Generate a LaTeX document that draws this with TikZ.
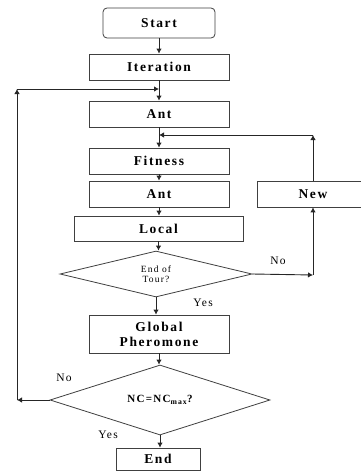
\documentclass[tikz,border=0pt]{standalone}
\usepackage{fontspec}
\setmainfont{Liberation Serif}[LetterSpace=12]
\usetikzlibrary{shapes.geometric,arrows.meta}
\begin{document}
\begin{tikzpicture}[x=1pt,y=-1pt,
  box/.style={draw=black!75,line width=0.8pt,inner sep=0pt,font=\fontsize{13.5}{15}\selectfont\bfseries,align=center},
  dia/.style={draw=black!75,line width=0.8pt,diamond,inner sep=0pt,align=center},
  arr/.style={draw=black!85,line width=0.9pt,-{Latex[length=5pt,width=5.5pt]}},
  ln/.style={draw=black!85,line width=0.9pt},
  lab/.style={font=\fontsize{11.5}{12}\selectfont,inner sep=0pt}]
\clip (0,0) rectangle (361,471);
\fill[white] (0,0) rectangle (361,471);
\node[box,rounded corners=4pt,minimum width=112pt,minimum height=30pt] (start) at (159,23) {Start};
\node[box,minimum width=140pt,minimum height=26pt] (iter) at (159,67) {Iteration};
\node[box,minimum width=140pt,minimum height=26pt] (ant1) at (159,114) {Ant};
\node[box,minimum width=140pt,minimum height=26pt] (fit) at (159,161) {Fitness};
\node[box,minimum width=140pt,minimum height=26pt] (ant2) at (159,194) {Ant};
\node[box,minimum width=112pt,minimum height=26pt] (new) at (313,194) {New};
\node[box,minimum width=169pt,minimum height=25pt] (local) at (158.5,228.5) {Local};
\node[dia,minimum width=192pt,minimum height=46pt,shape aspect=4.2,font=\fontsize{9.5}{10}\selectfont] (d1) at (156,274) {End of\\Tour?};
\node[box,minimum width=140pt,minimum height=38pt,font=\fontsize{13.5}{15}\selectfont\bfseries] (glob) at (159,334) {Global\\Pheromone};
\node[dia,minimum width=220pt,minimum height=70pt,shape aspect=3.15,font=\fontsize{11}{12}\selectfont\bfseries] (d2) at (160,400) {NC=NC\textsubscript{max}?};
\node[box,minimum width=84pt,minimum height=22pt] (end) at (158,459) {End};
\coordinate (j1) at (159,89);
\coordinate (j2) at (159,135);
\coordinate (cL) at (17,400);
\coordinate (cT) at (17,89);
\coordinate (cR) at (313,275);
\coordinate (cRT) at (313,135);
\draw[arr] (start) -- (iter);
\draw[arr] (iter) -- (ant1);
\draw[arr] (ant1) -- (fit);
\draw[arr] (fit) -- (ant2);
\draw[arr] (ant2) -- (ant2 |- local.north);
\draw[arr] (local.south) -- (local.south |- d1.north);
\draw[arr] (d1.south) -- (d1.south |- glob.north);
\draw[arr] (glob.south) -- (glob.south |- d2.north);
\draw[arr] (d2.south) -- (d2.south |- end.north);
\draw[arr] (d1.east) -- (cR);
\draw[arr] (cR) -- (new.south);
\draw[arr] (new.north) -- (cRT);
\draw[arr] (cRT) -- (j2);
\draw[arr] (d2.west) -- (cL);
\draw[arr] (cL) -- (cT);
\draw[arr] (cT) -- (j1);
\node[lab] (no1) at (278,261) {No};
\node[lab] (yes1) at (203,303) {Yes};
\node[lab] (no2) at (64,378) {No};
\node[lab] (yes2) at (108,435) {Yes};
\end{tikzpicture}
\end{document}
